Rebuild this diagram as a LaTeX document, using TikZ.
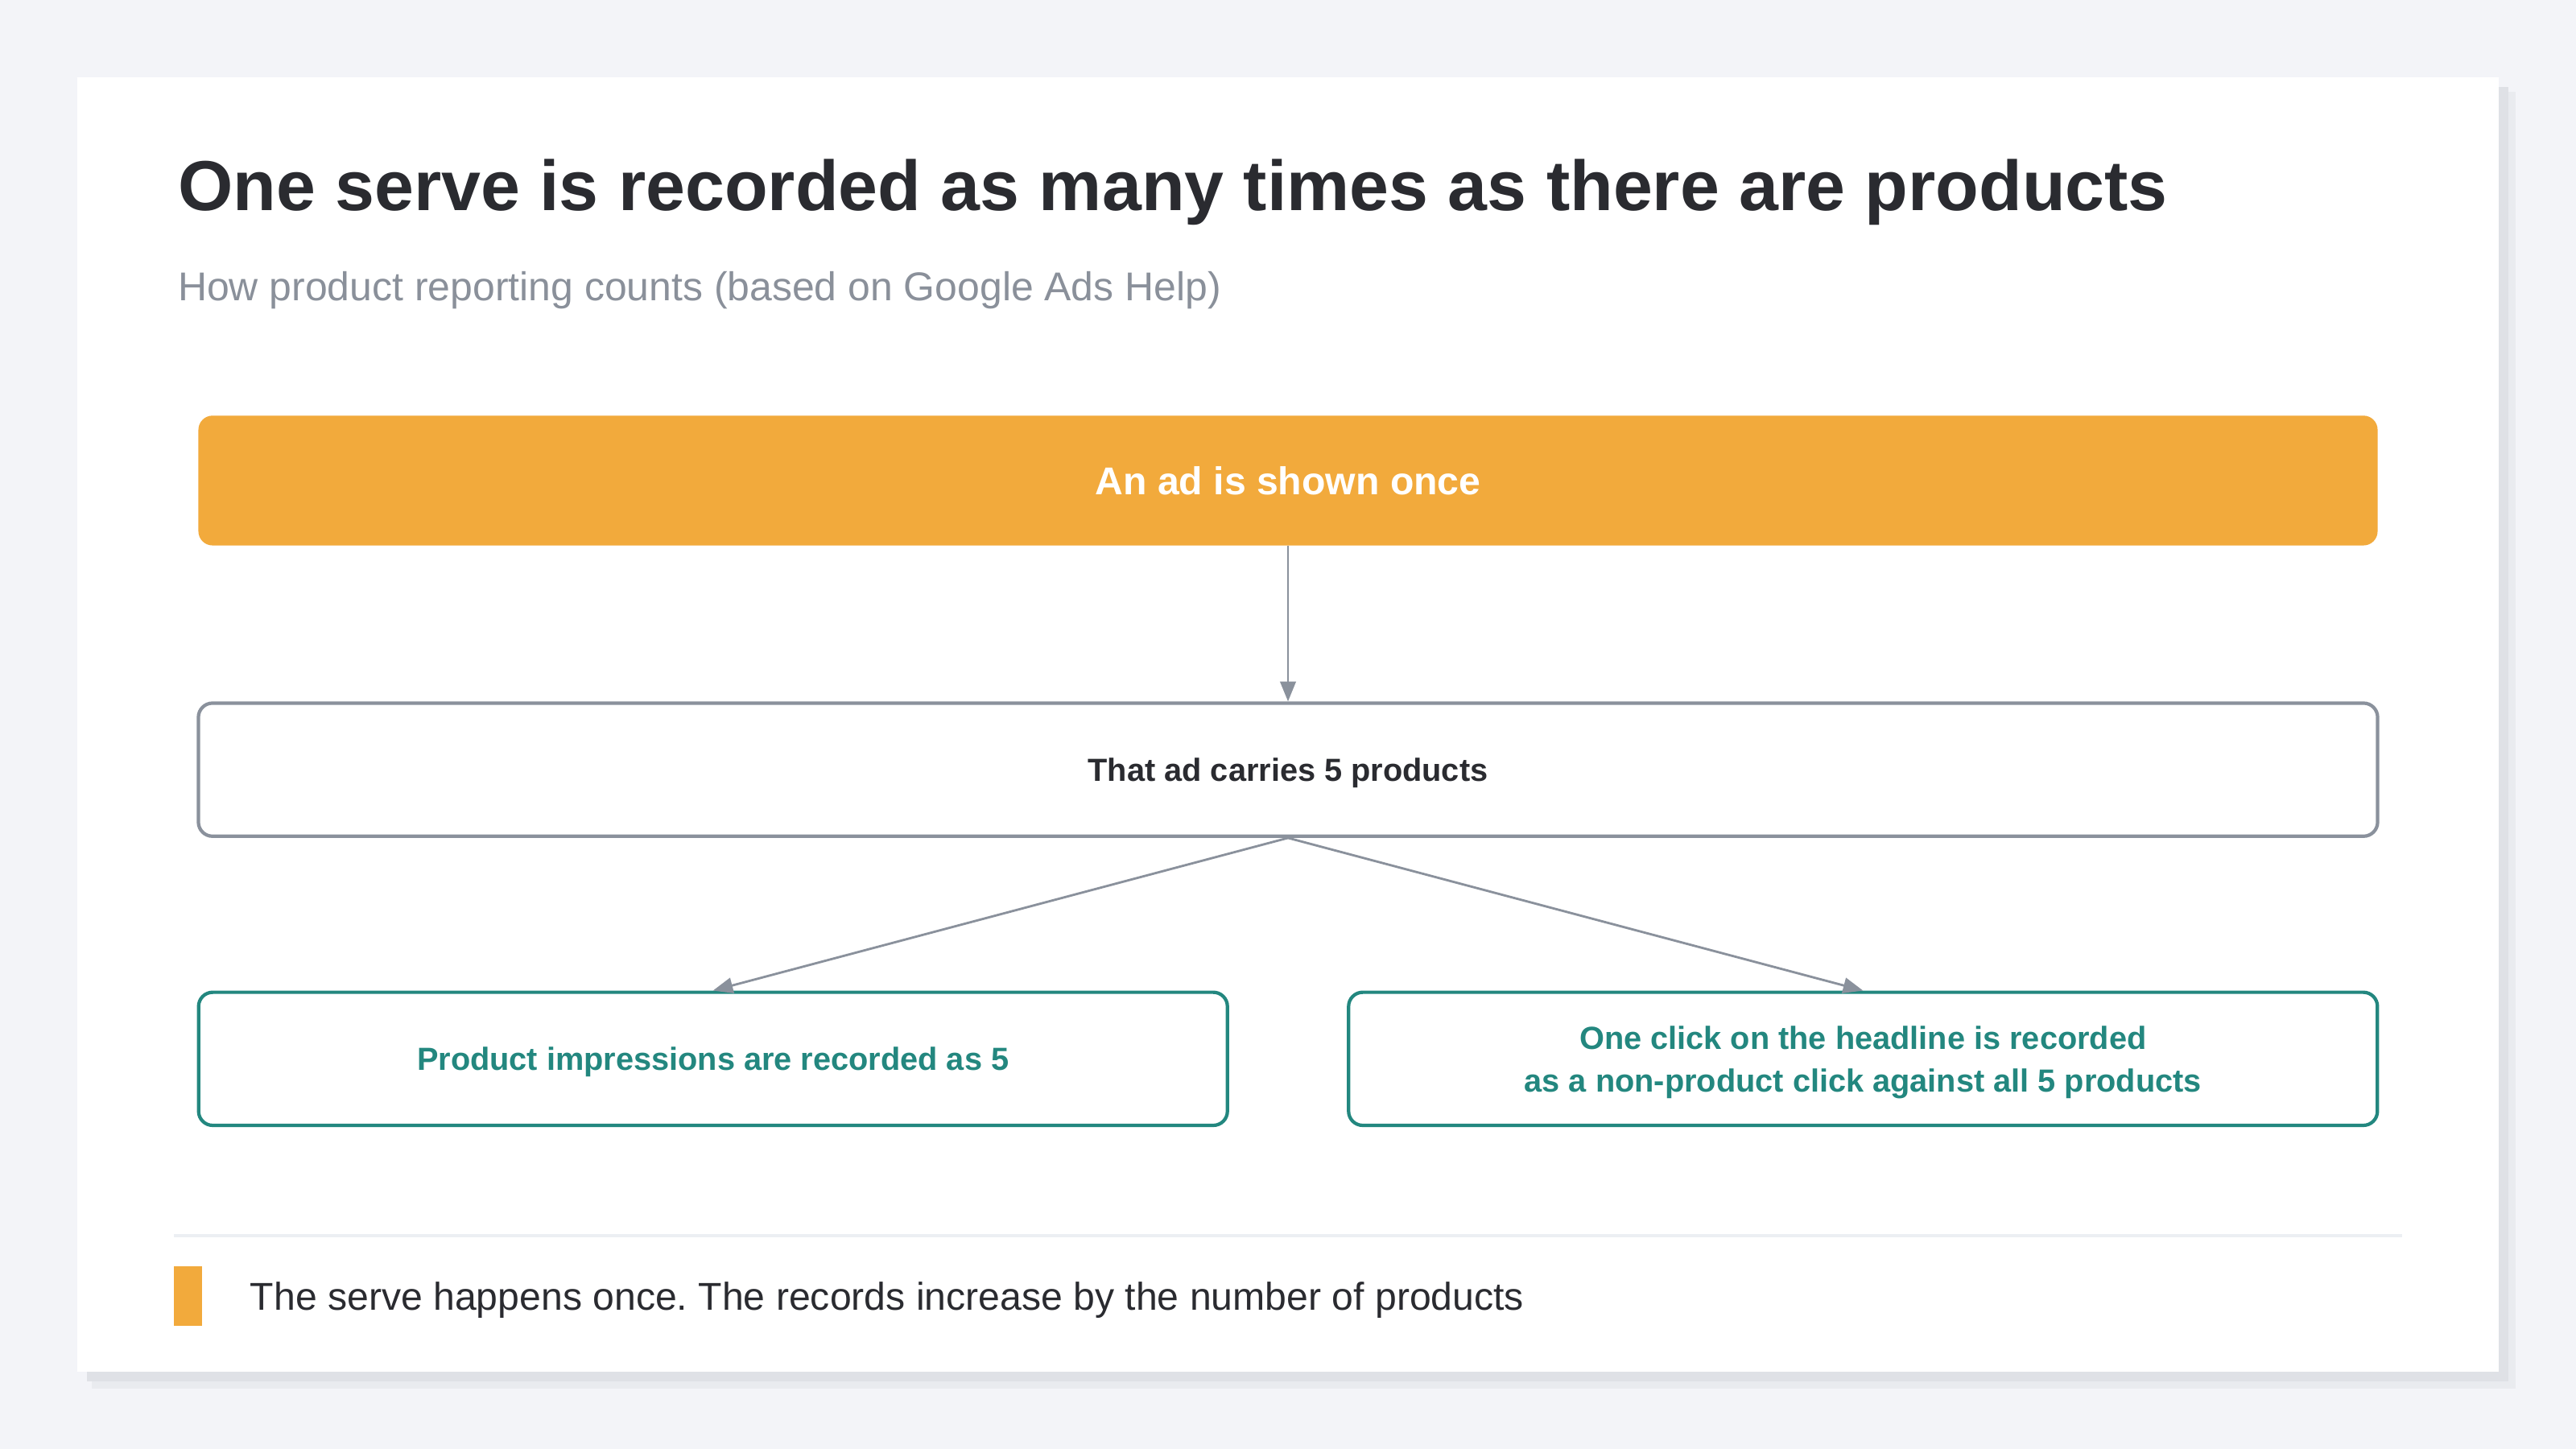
\documentclass[tikz,border=0pt]{standalone}
\usepackage{fontspec}
\setmainfont{Liberation Sans}
\usetikzlibrary{arrows.meta,positioning}
\frenchspacing
\definecolor{pagebg}{HTML}{F3F4F8}
\definecolor{shadowdark}{HTML}{DFE1E6}
\definecolor{shadowlight}{HTML}{E9EBEF}
\definecolor{adorange}{HTML}{F2AA3C}
\definecolor{linegray}{HTML}{8A919C}
\definecolor{recteal}{HTML}{23877F}
\definecolor{ink}{HTML}{2A2B30}
\definecolor{subgray}{HTML}{8A909A}
\definecolor{rulegray}{HTML}{ECEFF3}
\tikzset{
  stepbox/.style={rounded corners=5pt, align=center, inner sep=0pt,
    minimum width=27.061cm, minimum height=1.653cm},
  adbox/.style={stepbox, fill=adorange, text=white, minimum height=1.612cm,
    font=\fontsize{13.7}{16}\selectfont\bfseries},
  carrybox/.style={stepbox, draw=linegray, line width=1.2pt, fill=white, text=ink,
    text depth=0pt, font=\fontsize{11.3}{15}\selectfont\bfseries},
  recbox/.style={carrybox, draw=recteal, text=recteal, minimum width=12.776cm},
  flow/.style={draw=linegray, line width=0.8pt, -{Triangle[length=7pt,width=5.5pt]}},
  plain/.style={anchor=base west, inner sep=0pt}
}
\begin{document}
\begin{tikzpicture}[x=0.020408cm, y=-0.020408cm]
  \useasboundingbox[fill=pagebg] (0,0) rectangle (1568,882);
  % card and its shadow
  \fill[shadowlight] (56,56) rectangle (1531,845);
  \fill[shadowdark] (53,53) rectangle (1527,841);
  \fill[white] (47,47) rectangle (1521,835);

  \node[plain, text=ink, font=\fontsize{25}{30}\selectfont\bfseries] (title) at (108,128)
    {One serve is recorded as many times as there are products};
  \node[plain, text=subgray, font=\fontsize{14.2}{17}\selectfont] (subtitle) at (108,183)
    {How product reporting counts (based on Google Ads Help)};

  \node[adbox] (shown) at (784,292.5) {An ad is shown once};
  \node[carrybox] (carries) at (784,468.5) {That ad carries 5 products};
  \node[recbox] (impressions) at (434,644.5) {Product impressions are recorded as 5};
  \node[recbox] (click) at (1134,644.5)
    {One click on the headline is recorded\\as a non-product click against all 5 products};

  \draw[flow] (shown) -- (carries);
  \draw[flow] (carries.south) -- (impressions.north);
  \draw[flow] (carries.south) -- (click.north);

  % takeaway
  \draw[rulegray, line width=1.1pt] (106,752) -- (1462,752);
  \fill[adorange] (106,771) rectangle (123,807);
  \node[plain, text=ink, font=\fontsize{13.7}{16}\selectfont] (note) at (152,797.5)
    {The serve happens once. The records increase by the number of products};
\end{tikzpicture}
\end{document}
